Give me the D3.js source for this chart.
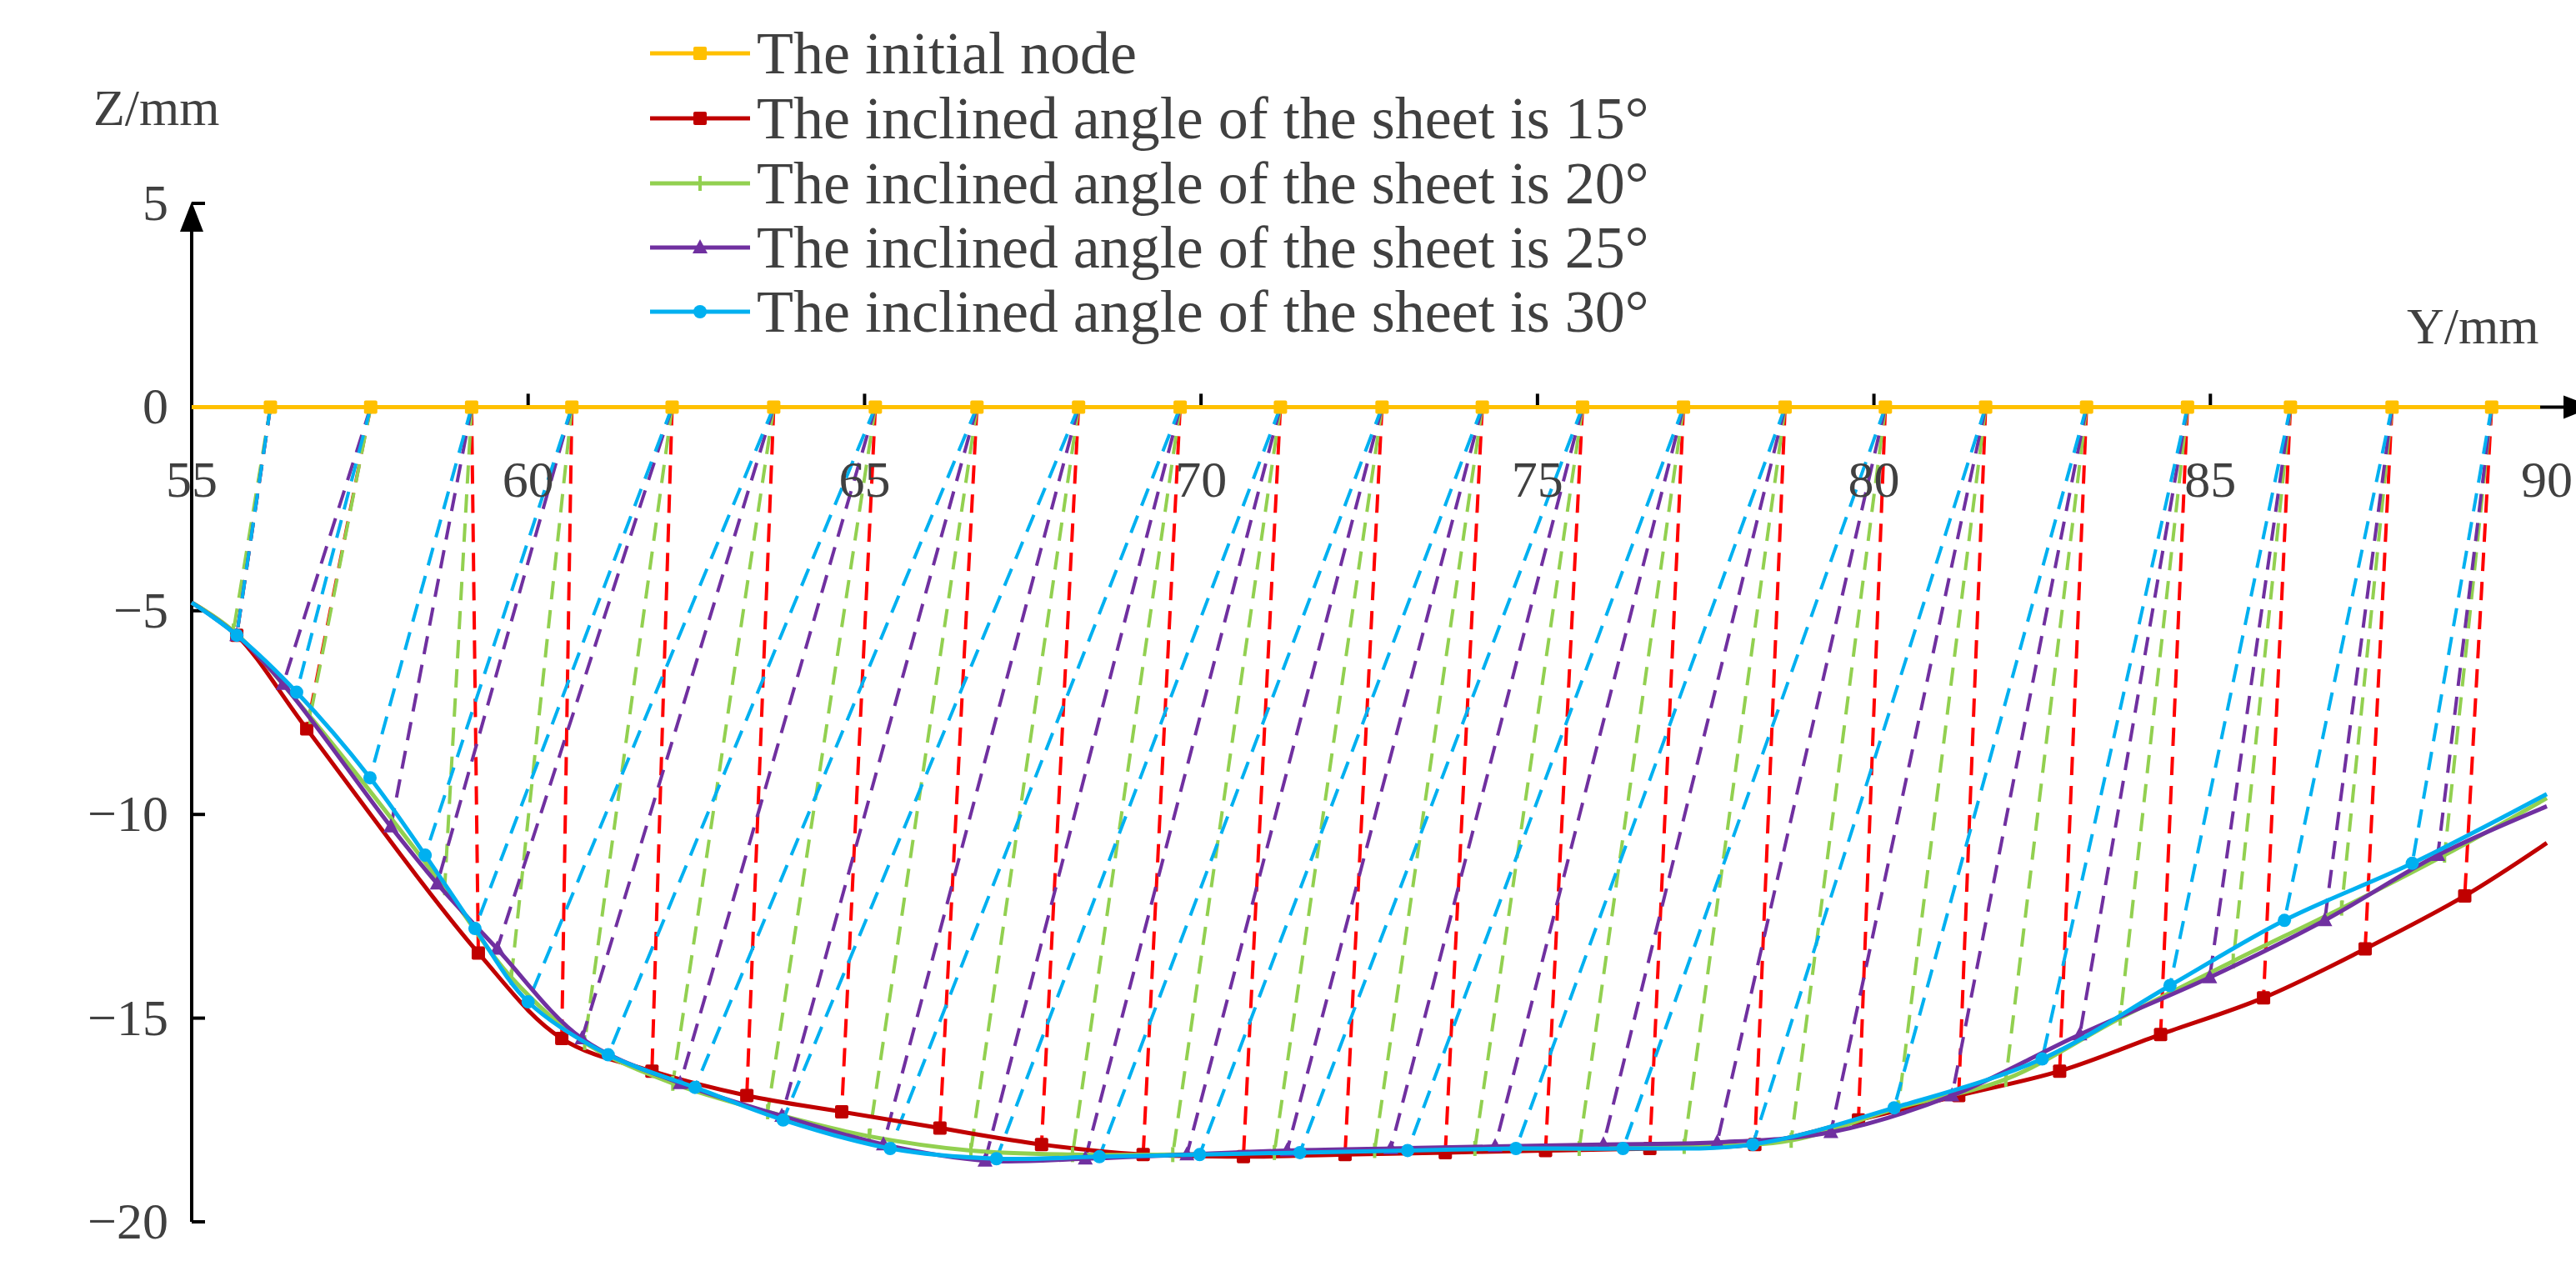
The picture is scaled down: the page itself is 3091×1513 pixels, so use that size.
<!DOCTYPE html>
<html>
<head>
<meta charset="utf-8">
<script src="https://cdn.jsdelivr.net/npm/d3@7"></script>
<style>
  body { margin: 0; background: #fff; }
  text { font-family: "Liberation Serif", "DejaVu Serif", serif; fill: #404040; }
</style>
</head>
<body>
<svg id="chart" width="3091" height="1513"></svg>
<script>
// Initial node positions (Y/mm) on the undeformed sheet, Z = 0
const initialY = [55, 56.17, 57.66, 59.16, 60.65, 62.14, 63.65, 65.16, 66.67, 68.18, 69.69, 71.18,
    72.69, 74.18, 75.67, 77.17, 78.68, 80.17, 81.66, 83.16, 84.66, 86.19, 87.7, 89.18];

// Deformed node positions per inclined angle; last point is the profile end at Y = 90
const red15Y = [55, 55.67, 56.71, 59.26, 60.5, 61.84, 63.25, 64.66, 66.12, 67.63, 69.14, 70.63, 72.14,
    73.63, 75.12, 76.67, 78.23, 79.77, 81.26, 82.76, 84.26, 85.79, 87.3, 88.78, 90];
const red15Z = [-4.8, -5.6, -7.9, -13.4, -15.5, -16.3, -16.9, -17.3, -17.7, -18.1, -18.35, -18.4, -18.35,
    -18.3, -18.25, -18.2, -18.1, -17.5, -16.9, -16.3, -15.4, -14.5, -13.3, -12.0, -10.7];

const green20Y = [55, 55.62, 56.76, 58.76, 59.75, 60.84, 62.15, 63.56, 65.07, 66.58, 68.09, 69.58, 71.09,
    72.58, 74.07, 75.62, 77.18, 78.77, 80.36, 81.96, 83.66, 85.34, 86.95, 88.48, 90];
const green20Z = [-4.8, -5.5, -7.6, -11.8, -14.0, -15.6, -16.6, -17.3, -17.9, -18.25, -18.35, -18.35, -18.3,
    -18.25, -18.2, -18.2, -18.15, -18.0, -17.2, -16.5, -15.0, -13.6, -12.3, -11.0, -9.6];

const purple25Y = [55, 55.67, 56.36, 57.96, 58.65, 59.54, 60.8, 62.26, 63.77, 65.28, 66.79, 68.28, 69.79,
    71.28, 72.82, 74.37, 75.98, 77.67, 79.36, 81.16, 83.06, 84.99, 86.7, 88.38, 90];
const purple25Z = [-4.8, -5.6, -6.8, -10.3, -11.7, -13.3, -15.5, -16.6, -17.4, -18.1, -18.5, -18.45, -18.35,
    -18.25, -18.2, -18.15, -18.1, -18.05, -17.8, -16.9, -15.4, -14.0, -12.6, -11.0, -9.8];

const blue30Y = [55, 55.67, 56.56, 57.65, 58.47, 59.21, 60.0, 61.19, 62.48, 63.79, 65.38, 66.96, 68.49,
    69.98, 71.47, 73.07, 74.68, 76.27, 78.2, 80.3, 82.5, 84.4, 86.1, 88.0, 90];
const blue30Z = [-4.8, -5.6, -7.0, -9.1, -11.0, -12.8, -14.6, -15.9, -16.7, -17.5, -18.2, -18.45, -18.4,
    -18.35, -18.3, -18.25, -18.2, -18.2, -18.1, -17.2, -16.0, -14.2, -12.6, -11.2, -9.5];

const legendLabels = ["The initial node",
    "The inclined angle of the sheet is 15\u00b0",
    "The inclined angle of the sheet is 20\u00b0",
    "The inclined angle of the sheet is 25\u00b0",
    "The inclined angle of the sheet is 30\u00b0"];
const xTicks = [55, 60, 65, 70, 75, 80, 85, 90];
const yTicks = [5, 0, -5, -10, -15, -20];

const series = [
    { ys: red15Y, zs: red15Z, line: "#C00000", dash: "#FF0000", marker: "square" },
    { ys: green20Y, zs: green20Z, line: "#92D050", dash: "#92D050", marker: "plus" },
    { ys: purple25Y, zs: purple25Z, line: "#7030A0", dash: "#7030A0", marker: "triangle" },
    { ys: blue30Y, zs: blue30Z, line: "#00B0F0", dash: "#00B0F0", marker: "circle" },
];
const yellow = "#FFC000";

const svg = d3.select("#chart");
const x = d3.scaleLinear().domain([55, 90]).range([230, 3056]);
const z = d3.scaleLinear().domain([-20, 5]).range([1466, 244]);

// dashed displacement lines, drawn first (behind the profiles)
const dashG = svg.append("g");
series.forEach(s => {
    initialY.forEach((y0, i) => {
        dashG.append("line")
            .attr("x1", x(y0)).attr("y1", z(0))
            .attr("x2", x(s.ys[i])).attr("y2", z(s.zs[i]))
            .attr("stroke", s.dash).attr("stroke-width", 4)
            .attr("stroke-dasharray", "22,13");
    });
});

// axes
const axisG = svg.append("g").attr("stroke", "#000").attr("stroke-width", 4);
axisG.append("line").attr("x1", x(55)).attr("x2", x(55)).attr("y1", z(-20)).attr("y2", z(5) + 30);
axisG.append("line").attr("x1", x(55)).attr("x2", x(90) + 20).attr("y1", z(0)).attr("y2", z(0));
svg.append("path").attr("fill", "#000")
    .attr("d", `M${x(55)},${z(5) - 2} l-14,36 l28,0 z`);
svg.append("path").attr("fill", "#000")
    .attr("d", `M${x(90) + 56},${z(0)} l-36,-14 l0,28 z`);
xTicks.filter(t => t > 55 && t < 90).forEach(t => {
    axisG.append("line").attr("x1", x(t)).attr("x2", x(t)).attr("y1", z(0)).attr("y2", z(0) - 16);
});
yTicks.filter(t => t !== 0).forEach(t => {
    axisG.append("line").attr("x1", x(55)).attr("x2", x(55) + 16).attr("y1", z(t)).attr("y2", z(t));
});

// tick labels
svg.append("g").selectAll("text").data(xTicks).join("text")
    .attr("x", d => x(d)).attr("y", z(0) + 108)
    .attr("text-anchor", "middle").attr("font-size", 62).text(d => d);
svg.append("g").selectAll("text").data(yTicks).join("text")
    .attr("x", 202).attr("y", d => z(d) + 20)
    .attr("text-anchor", "end").attr("font-size", 62)
    .text(d => d < 0 ? "\u2212" + Math.abs(d) : d);
svg.append("text").attr("x", 112).attr("y", 150).attr("font-size", 62).text("Z/mm");
svg.append("text").attr("x", 2888).attr("y", 412).attr("font-size", 62).text("Y/mm");

// initial node line
svg.append("line").attr("x1", x(55)).attr("x2", x(90) - 8).attr("y1", z(0)).attr("y2", z(0))
    .attr("stroke", yellow).attr("stroke-width", 5);

function drawMarker(g, kind, cx, cy, color) {
    if (kind === "square") {
        g.append("rect").attr("x", cx - 8).attr("y", cy - 8).attr("width", 16).attr("height", 16)
            .attr("rx", 2).attr("fill", color);
    } else if (kind === "circle") {
        g.append("circle").attr("cx", cx).attr("cy", cy).attr("r", 8).attr("fill", color);
    } else if (kind === "triangle") {
        g.append("path").attr("d", `M${cx},${cy - 10} L${cx + 9},${cy + 7} L${cx - 9},${cy + 7} Z`).attr("fill", color);
    } else {
        g.append("line").attr("x1", cx).attr("x2", cx).attr("y1", cy - 9).attr("y2", cy + 9)
            .attr("stroke", color).attr("stroke-width", 4);
    }
}

const nodeG = svg.append("g");
initialY.slice(1).forEach(y0 => drawMarker(nodeG, "square", x(y0), z(0), yellow));

// deformed profiles
const line = d3.line().x(d => x(d[0])).y(d => z(d[1])).curve(d3.curveCatmullRom.alpha(0.5));
series.forEach(s => {
    const pts = s.ys.map((v, i) => [v, s.zs[i]]);
    svg.append("path").attr("d", line(pts)).attr("fill", "none")
        .attr("stroke", s.line).attr("stroke-width", 5);
    const mg = svg.append("g");
    pts.slice(1, -1).forEach(p => drawMarker(mg, s.marker, x(p[0]), z(p[1]), s.line));
});

// legend
const legendColors = [yellow].concat(series.map(s => s.line));
const legendMarkers = ["square"].concat(series.map(s => s.marker));
const legendRowY = [64, 142, 220, 297, 374];
legendLabels.forEach((label, i) => {
    const g = svg.append("g");
    const ly = legendRowY[i];
    g.append("line").attr("x1", 780).attr("x2", 900).attr("y1", ly).attr("y2", ly)
        .attr("stroke", legendColors[i]).attr("stroke-width", 5);
    drawMarker(g, legendMarkers[i], 840, ly, legendColors[i]);
    g.append("text").attr("x", 908).attr("y", ly + 24).attr("font-size", 72).text(label);
});
</script>
</body>
</html>
